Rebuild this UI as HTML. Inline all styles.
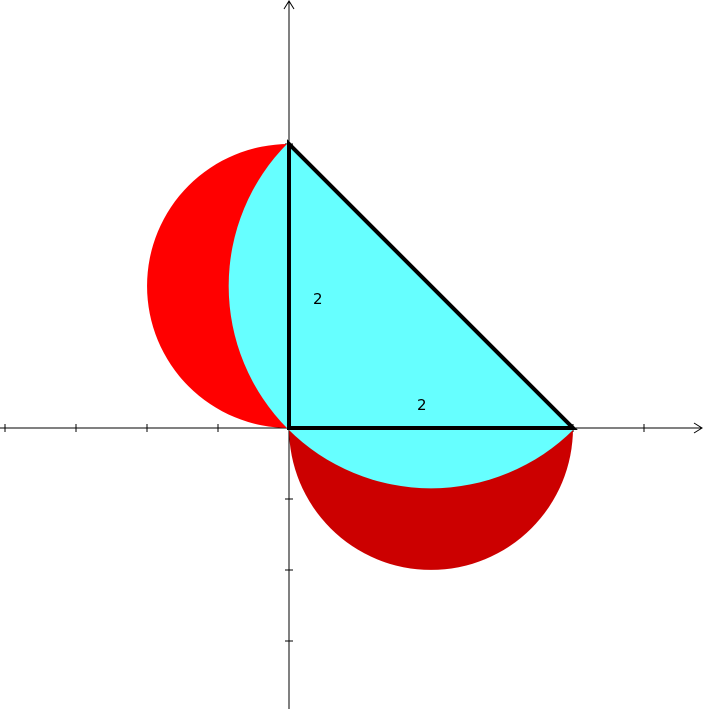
<!DOCTYPE html>
<html><head><meta charset="utf-8"><style>html,body{margin:0;padding:0;background:#fff}svg{display:block}</style></head>
<body>
<svg id="fig" width="704" height="709" viewBox="0 0 704 709" xmlns="http://www.w3.org/2000/svg">
<defs><clipPath id="hyp"><polygon points="0,-145 900,755 0,755"/></clipPath></defs>
<g id="axes"></g>
<g id="shapes"></g>
<g id="labels"></g>
</svg>
<script>
const xTicks=[-4,-3,-2,-1,1,2,3,4,5];
const yTicks=[-3,-2,-1,1,2,3,4];
const legA=2, legB=2;
const legLabels=["2","2"];
const ox=289, oy=428, u=71, s=284/legA;
const X=v=>ox+v*u, Y=v=>oy-v*u;
const NS="http://www.w3.org/2000/svg";
function mk(t,a,p){const e=document.createElementNS(NS,t);for(const k in a)e.setAttribute(k,a[k]);p.appendChild(e);return e;}
const g=document.getElementById('shapes'), ax=document.getElementById('axes'), lb=document.getElementById('labels');
const A=[ox,oy-legA*s], B=[ox+legB*s,oy];
const r1=legA*s/2, r2=legB*s/2;
let e=mk('path',{d:`M${ox},${A[1]} A${r1},${r1} 0 0 0 ${ox},${oy} Z`,fill:'#ff0000'},g);


e=mk('path',{d:`M${ox},${oy} A${r2},${r2} 0 0 0 ${B[0]},${oy} Z`,fill:'#cc0000'},g);


const cx=(A[0]+B[0])/2, cy=(A[1]+B[1])/2, R=Math.hypot(B[0]-A[0],B[1]-A[1])/2+1.5;
e=mk('circle',{cx:cx,cy:cy,r:R,fill:'#66ffff','clip-path':'url(#hyp)'},g);


e=mk('polygon',{points:`${ox},${oy} ${A[0]},${A[1]} ${B[0]},${B[1]}`,fill:'none',stroke:'#000','stroke-width':4,'stroke-linejoin':'miter'},g);


e=mk('line',{x1:0,y1:oy,x2:702,y2:oy,stroke:'#000','stroke-width':1},ax);


e=mk('path',{d:`M694,${oy-5} L702,${oy} L694,${oy+5}`,fill:'none',stroke:'#000'},ax);


e=mk('line',{x1:ox,y1:1,x2:ox,y2:709,stroke:'#000','stroke-width':1},ax);


e=mk('path',{d:`M${ox-5},9 L${ox},1 L${ox+5},9`,fill:'none',stroke:'#000'},ax);


xTicks.forEach(v=>{const t=mk('line',{x1:X(v),x2:X(v),y1:oy-4,y2:oy+4,stroke:'#000'},ax);

});
yTicks.forEach(v=>{const t=mk('line',{x1:ox-4,x2:ox+4,y1:Y(v),y2:Y(v),stroke:'#000'},ax);

});
e=mk('text',{x:313,y:304,'font-family':'DejaVu Sans, sans-serif','font-size':15},lb);e.textContent=legLabels[0];


e=mk('text',{x:417,y:410,'font-family':'DejaVu Sans, sans-serif','font-size':15},lb);e.textContent=legLabels[1];


</script>
</body></html>
